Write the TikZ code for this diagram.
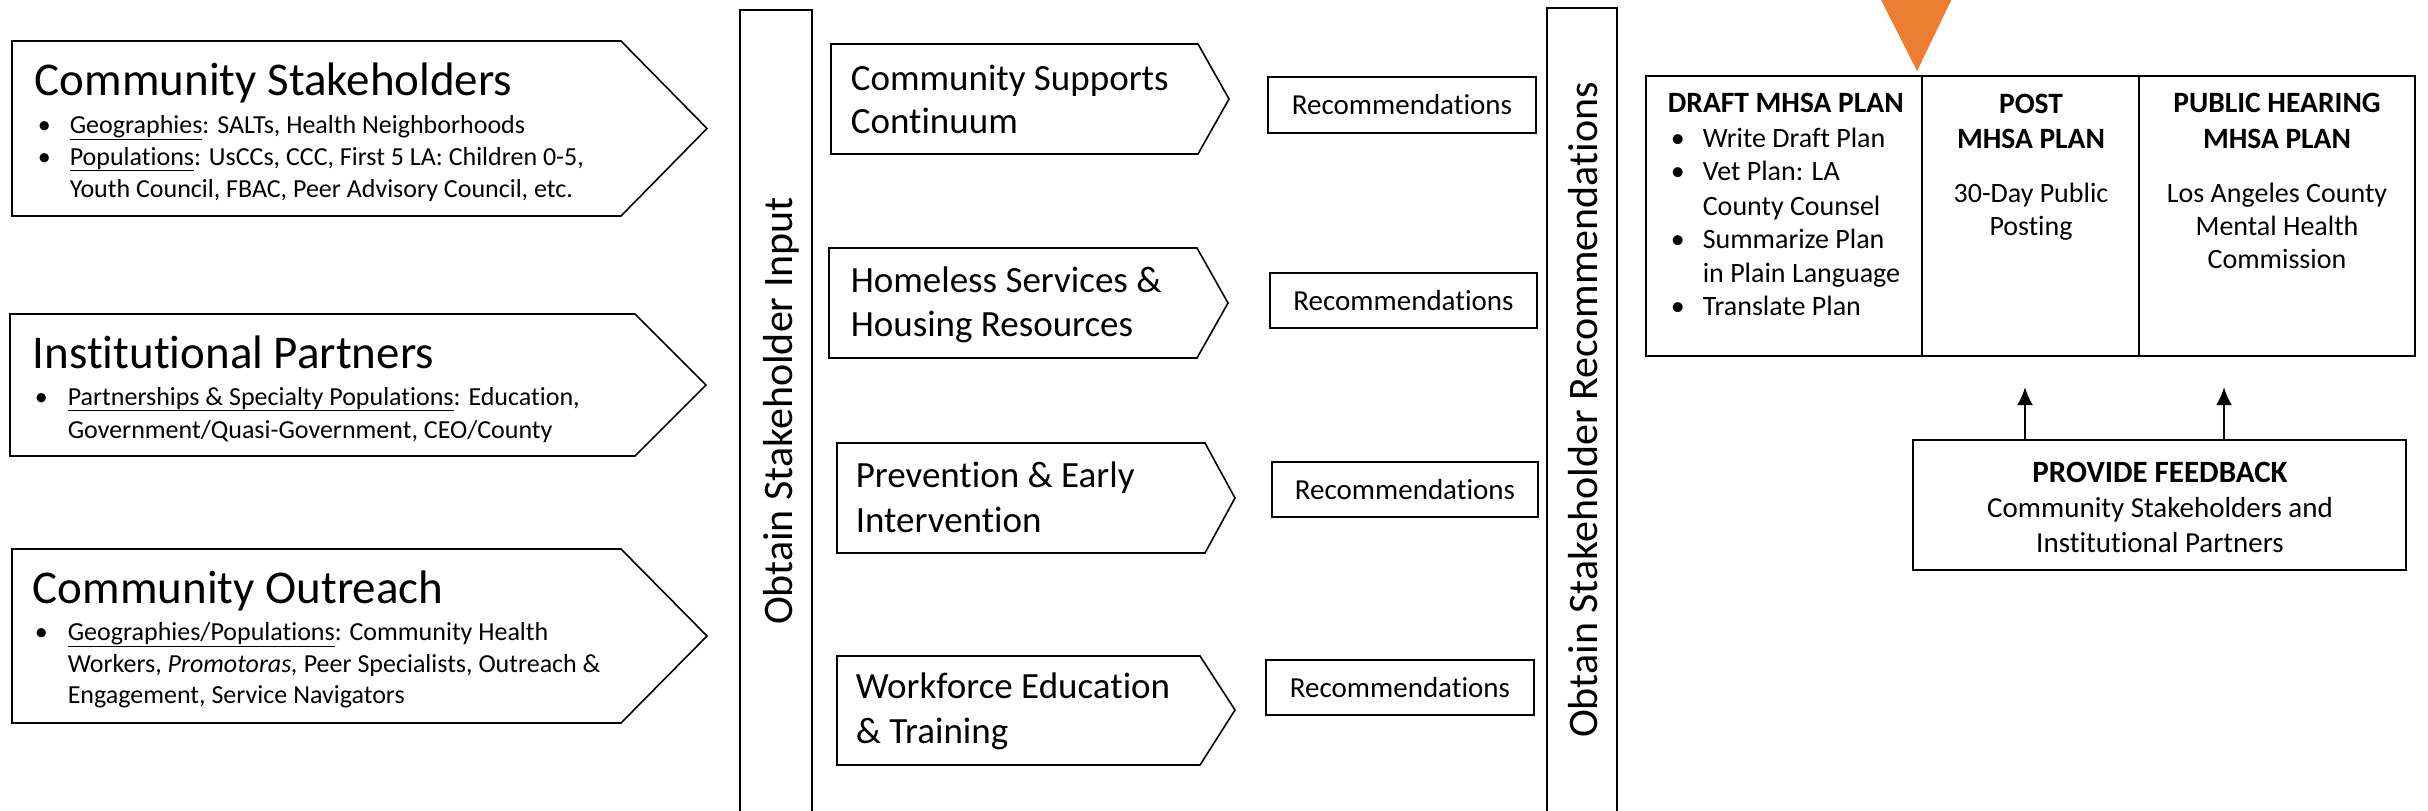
\documentclass[tikz,border=0pt]{standalone}
\usepackage{fontspec}
\setmainfont{Carlito}[Ligatures={NoCommon,NoContextual,NoRare}]
\usetikzlibrary{arrows.meta}
\definecolor{orangeA}{HTML}{ED7D31}
\newcommand\myfs[1]{\fontsize{#1}{#1}\selectfont}
\begin{document}
\begin{tikzpicture}[x=1pt,y=-1pt,line width=1.6pt,
  outl/.style={draw=black,line width=1.6pt},
  ttl/.style={anchor=base west,inner sep=0pt,font=\myfs{47}},
  bul/.style={anchor=base west,inner sep=0pt,font=\myfs{26}},
  arrtxt/.style={anchor=base west,inner sep=0pt,font=\myfs{37}},
  recbox/.style={draw=black,line width=1.6pt,inner sep=0pt,font=\myfs{29}},
  vtxt/.style={rotate=90,anchor=base,inner sep=0pt,font=\myfs{42}},
  tabw/.style={anchor=base west,inner sep=0pt,font=\myfs{28}},
  tabc/.style={anchor=base,inner sep=0pt,font=\myfs{28}},
  tabh/.style={anchor=base,inner sep=0pt,font=\myfs{29.5}\bfseries},
  fbc/.style={anchor=base,inner sep=0pt,font=\myfs{29}},
  fbh/.style={anchor=base,inner sep=0pt,font=\myfs{31}\bfseries},
  fbarrow/.style={-{Latex[length=18pt,width=16pt]},line width=2.6pt}
]
\useasboundingbox (0,0) rectangle (2428,811);
\clip (0,0) rectangle (2428,811);

% ---- left pentagons ----
\draw[outl] (12,41) -- (621,41) -- (707,128.5) -- (621,216) -- (12,216) -- cycle;
\node[ttl] (t1) at (34,95) {Community Stakeholders};
\node[bul] (b1a) at (37,133) {•};
\node[bul] (l1a) at (69,133) {\underline{Geographies}: SALTs, Health Neighborhoods};
\node[bul] (b1b) at (37,165) {•};
\node[bul] (l1b) at (69,165) {\underline{Populations}: UsCCs, CCC, First 5 LA: Children 0-5,};
\node[bul] (l1c) at (69,197) {Youth Council, FBAC, Peer Advisory Council, etc.};

\draw[outl] (10,314) -- (635,314) -- (706,385) -- (635,456) -- (10,456) -- cycle;
\node[ttl] (t2) at (32,368) {Institutional Partners};
\node[bul] (b2a) at (34,405) {•};
\node[bul] (l2a) at (67,405) {\underline{Partnerships \& Specialty Populations}: Education,};
\node[bul] (l2b) at (67,438) {Government/Quasi-Government, CEO/County};

\draw[outl] (12,549) -- (621,549) -- (707,636) -- (621,723) -- (12,723) -- cycle;
\node[ttl] (t3) at (32,603) {Community Outreach};
\node[bul] (b3a) at (34,640) {•};
\node[bul] (l3a) at (67,640) {\underline{Geographies/Populations}: Community Health};
\node[bul] (l3b) at (67,672) {Workers, \textit{Promotoras,} Peer Specialists, Outreach \&};
\node[bul] (l3c) at (67,703) {Engagement, Service Navigators};

% ---- vertical boxes ----
\draw[outl] (740,10) rectangle (812,840);
\node[vtxt] (vin) at (792,411) {Obtain Stakeholder Input};
\draw[outl] (1547,8) rectangle (1617,840);
\node[vtxt] (vrec) at (1597,410) {Obtain Stakeholder Recommendations};

% ---- middle arrows ----
\draw[outl] (831,44) -- (1198,44) -- (1229,99) -- (1198,154) -- (831,154) -- cycle;
\node[arrtxt] (c1a) at (850,90) {Community Supports};
\node[arrtxt] (c1b) at (850,133) {Continuum};
\draw[outl] (829,248) -- (1197,248) -- (1228,303) -- (1197,358) -- (829,358) -- cycle;
\node[arrtxt] (c2a) at (850,292) {Homeless Services \&};
\node[arrtxt] (c2b) at (850,336) {Housing Resources};
\draw[outl] (837,443) -- (1205,443) -- (1235,498) -- (1205,553) -- (837,553) -- cycle;
\node[arrtxt] (c3a) at (855,487) {Prevention \& Early};
\node[arrtxt] (c3b) at (855,532) {Intervention};
\draw[outl] (837,656) -- (1200,656) -- (1235,710) -- (1200,765) -- (837,765) -- cycle;
\node[arrtxt] (c4a) at (855,698) {Workforce Education};
\node[arrtxt] (c4b) at (855,743) {\& Training};

% ---- recommendations ----
\node[recbox,minimum width=268pt,minimum height=56pt] (r1) at (1402,105) {Recommendations};
\node[recbox,minimum width=267pt,minimum height=55pt] (r2) at (1403.5,300.5) {Recommendations};
\node[recbox,minimum width=266pt,minimum height=55pt] (r3) at (1405,489.5) {Recommendations};
\node[recbox,minimum width=268pt,minimum height=55pt] (r4) at (1400,687.5) {Recommendations};

% ---- orange marker ----
\fill[orangeA] (1871,-20) -- (1961,-20) -- (1918,69) .. controls (1917,72) .. (1916,69) -- cycle;

% ---- plan table ----
\node[draw=black,line width=1.6pt,inner sep=0pt,minimum width=769pt,minimum height=280pt] (plan) at (2030.5,216) {};
\draw[outl] (1922,76) -- (1922,356);
\draw[outl] (2139,76) -- (2139,356);
\node[anchor=base west,inner sep=0pt,font=\myfs{29.5}\bfseries] (d0) at (1667,112) {DRAFT MHSA PLAN};
\node[tabw] (db1) at (1670,147) {•};
\node[tabw] (d1) at (1702,147) {Write Draft Plan};
\node[tabw] (db2) at (1670,180) {•};
\node[tabw] (d2) at (1702,180) {Vet Plan: LA};
\node[tabw] (d3) at (1702,215) {County Counsel};
\node[tabw] (db4) at (1670,248) {•};
\node[tabw] (d4) at (1702,248) {Summarize Plan};
\node[tabw] (d5) at (1702,282) {in Plain Language};
\node[tabw] (db6) at (1670,315) {•};
\node[tabw] (d6) at (1702,315) {Translate Plan};

\node[tabh] (p0) at (2031,113) {POST};
\node[tabh] (p1) at (2031,148) {MHSA PLAN};
\node[tabc] (p2) at (2031,202) {30-Day Public};
\node[tabc] (p3) at (2031,235) {Posting};

\node[tabh] (h0) at (2277,112) {PUBLIC HEARING};
\node[tabh] (h1) at (2277,148) {MHSA PLAN};
\node[tabc] (h2) at (2277,202) {Los Angeles County};
\node[tabc] (h3) at (2277,235) {Mental Health};
\node[tabc] (h4) at (2277,268) {Commission};

% ---- feedback ----
\node[draw=black,line width=1.6pt,inner sep=0pt,minimum width=493pt,minimum height=130pt] (fb) at (2159.5,505) {};
\node[fbh] (f0) at (2160,482) {PROVIDE FEEDBACK};
\node[fbc] (f1) at (2160,517) {Community Stakeholders and};
\node[fbc] (f2) at (2160,552) {Institutional Partners};

\coordinate (a1) at (2025,387);
\coordinate (a2) at (2224,387);
\draw[fbarrow] (fb.north -| a1) -- (a1);
\draw[fbarrow] (fb.north -| a2) -- (a2);
\end{tikzpicture}
\end{document}
